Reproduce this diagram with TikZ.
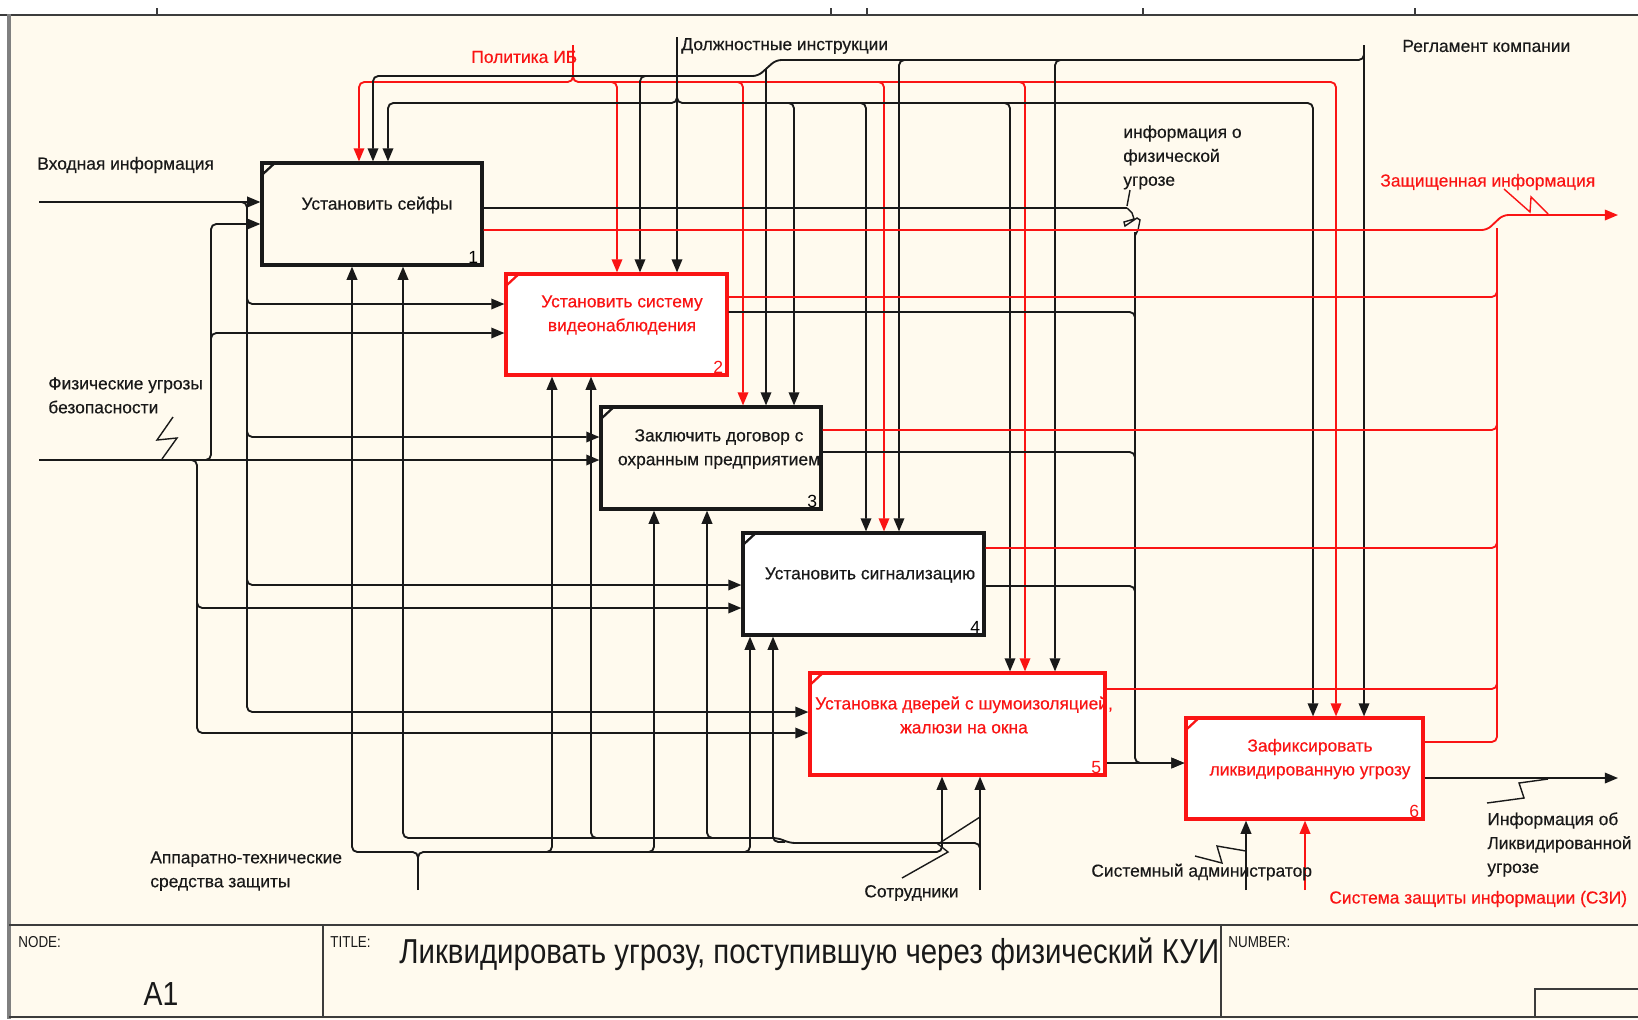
\documentclass[tikz,border=0pt]{standalone}
\usepackage{fontspec}
\setmainfont{Liberation Sans}
\newfontfamily\lblfont[FakeBold=0.4]{Liberation Sans}
\newfontfamily\narrowfont[FakeStretch=0.85]{Liberation Sans}
\usetikzlibrary{arrows.meta,fit}

\definecolor{paper}{RGB}{255,250,238}
\definecolor{ink}{RGB}{25,25,25}
\definecolor{idefred}{RGB}{250,20,20}
\definecolor{framegray}{RGB}{60,60,60}

\begin{document}
\begin{tikzpicture}[x=0.02cm,y=-0.02cm,
  wire/.style={draw=ink,line width=1.05pt,rounded corners=3pt},
  rwire/.style={wire,draw=idefred},
  tip/.style={-{Triangle[length=7.5pt,width=6pt]}},
  squig/.style={draw=ink,line width=0.8pt,sharp corners},
  lbl/.style={font=\lblfont\fontsize{9.9}{13.6}\selectfont,text=ink,inner sep=0pt},
  rlbl/.style={lbl,text=idefred},
  act/.style={draw=ink,line width=1.8pt,inner sep=0pt},
  ract/.style={act,draw=idefred},
  atext/.style={lbl,align=center},
  num/.style={font=\fontsize{10}{11}\selectfont,inner sep=0pt,anchor=south east},
  frameline/.style={draw=framegray,line width=1.2pt},
  tag/.style={font=\narrowfont\fontsize{9}{10}\selectfont,text=ink,inner sep=0pt,anchor=west},
]
% sheet
\useasboundingbox (0,0) rectangle (1638,1019);
\fill[white] (0,0) rectangle (1638,1019);
\fill[paper] (9,15) rectangle (1638,1019);

% free ends of the boundary arrows
\coordinate (srcIB) at (573,45);
\coordinate (srcDI) at (677,37);
\coordinate (srcRK) at (1364,45);
\coordinate (srcVI) at (39,202);
\coordinate (srcFU) at (39,460);
\coordinate (srcAT) at (418,890);
\coordinate (srcSO) at (980,890);
\coordinate (srcSA) at (1246,890);
\coordinate (srcSZ) at (1305,890);
\coordinate (dstZI) at (1618,215);
\coordinate (dstIL) at (1618,778);

% activity boxes
\node[act,fill=paper,fit={(262,163) (482,265)}] (b1) {};
\node[ract,fill=white,fit={(506,274) (727,375)}] (b2) {};
\node[act,fill=paper,fit={(601,407) (821,509)}] (b3) {};
\node[act,fill=white,fit={(743,533) (984,635)}] (b4) {};
\node[ract,fill=white,fit={(810,673) (1105,775)}] (b5) {};
\node[ract,fill=white,fit={(1186,718) (1423,819)}] (b6) {};

% controls: Политика ИБ
\draw[rwire,tip] (srcIB) |- (500,82) -| (359,0 |- b1.north);
\draw[rwire,tip] (srcIB) |- (1200,82) -| (1336,0 |- b6.north);
\draw[rwire,tip] (607,82) -| (617,0 |- b2.north);
\draw[rwire,tip] (733,82) -| (743,0 |- b3.north);
\draw[rwire,tip] (874,82) -| (884,0 |- b4.north);
\draw[rwire,tip] (1015,82) -| (1025,0 |- b5.north);

% controls: Должностные инструкции
\draw[wire,tip] (srcDI) -- (677,0 |- b2.north);
\draw[wire,tip] (srcDI) |- (500,103) -| (388,0 |- b1.north);
\draw[wire,tip] (srcDI) |- (1200,103) -| (1313,0 |- b6.north);
\draw[wire,tip] (784,103) -| (794,0 |- b3.north);
\draw[wire,tip] (856,103) -| (866,0 |- b4.north);
\draw[wire,tip] (1000,103) -| (1010,0 |- b5.north);

% controls: Регламент компании
\draw[wire,tip] (srcRK) -- (1364,0 |- b6.north);
\draw[wire,tip] (srcRK) |- (776,60) -- (758,76) -| (373,0 |- b1.north);
\draw[wire,tip] (909,60) -| (899,0 |- b4.north);
\draw[wire,tip] (1065,60) -| (1055,0 |- b5.north);
\draw[wire,tip] (650,76) -| (640,0 |- b2.north);
\draw[wire,tip] (766,69) -- (766,0 |- b3.north);

% inputs: Входная информация
\draw[wire,tip] (srcVI) -- (b1.west |- 0,202);
\draw[wire,tip] (238,202) -| (247,712) -- (b5.west |- 0,712);
\draw[wire,tip] (247,295) |- (b2.west |- 0,304);
\draw[wire,tip] (247,428) |- (b3.west |- 0,437);
\draw[wire,tip] (247,576) |- (b4.west |- 0,585);

% inputs: Физические угрозы безопасности
\draw[wire,tip] (srcFU) -- (b3.west |- 0,460);
\draw[wire,tip] (200,460) -| (211,224) -- (b1.west |- 0,224);
\draw[wire,tip] (211,342) |- (b2.west |- 0,333);
\draw[wire,tip] (188,460) -| (197,733) -- (b5.west |- 0,733);
\draw[wire,tip] (197,599) |- (b4.west |- 0,608);

% black outputs gathered into box 6
\draw[wire] (b1.east |- 0,208) -- (1127,208);
\draw[squig] (1130,190) -- (1127,206);
\draw[squig] (1127,208) -- (1132,213) -- (1134,219) -- (1124,222) -- (1125,226)
  -- (1137,218) -- (1140,220) -- (1138,230) -- (1135,236);
\draw[wire,tip] (1135,232) |- (b6.west |- 0,763);
\draw[wire,tip] (b5.east |- 0,763) -- (b6.west |- 0,763);
\draw[wire] (b2.east |- 0,312) -| (1135,330);
\draw[wire] (b3.east |- 0,452) -| (1135,470);
\draw[wire] (b4.east |- 0,586) -| (1135,604);

% red outputs: Защищенная информация
\draw[rwire,tip] (b1.east |- 0,230) -- (1487,230) -- (1503,215) -- (dstZI);
\draw[rwire] (b6.east |- 0,742) -| (1497,228);
\draw[rwire] (b2.east |- 0,297) -| (1497,285);
\draw[rwire] (b3.east |- 0,430) -| (1497,418);
\draw[rwire] (b4.east |- 0,548) -| (1497,536);
\draw[rwire] (b5.east |- 0,689) -| (1497,677);

% output of box 6
\draw[wire,tip] (b6.east |- 0,778) -- (dstIL);

% mechanisms: Аппаратно-технические средства защиты
\draw[wire] (srcAT) -- (418,862);
\draw[wire,tip] (418,866) |- (400,852) -| (352,0 |- b1.south);
\draw[wire,tip] (418,866) |- (440,852) -| (942,0 |- b5.south);
\draw[wire,tip] (542,852) -| (552,0 |- b2.south);
\draw[wire,tip] (644,852) -| (654,0 |- b3.south);
\draw[wire,tip] (740,852) -| (750,0 |- b4.south);

% mechanisms: Сотрудники
\draw[wire,tip] (srcSO) -- (980,0 |- b5.south);
\draw[wire,tip] (980,860) |- (790,843) -- (778,838) -| (403,0 |- b1.south);
\draw[wire,tip] (601,838) -| (591,0 |- b2.south);
\draw[wire,tip] (717,838) -| (707,0 |- b3.south);
\draw[wire,tip] (785,842) -| (773,0 |- b4.south);

% mechanisms of box 6
\draw[wire,tip] (srcSA) -- (1246,0 |- b6.south);
\draw[rwire,tip] (srcSZ) -- (1305,0 |- b6.south);

% label squiggles
\draw[squig] (173,417) -- (157,440) -- (177,438) -- (162,459);
\draw[squig,draw=idefred] (1504,189) -- (1530,212) -- (1531,197) -- (1548,214);
\draw[squig] (1487,803) -- (1524,798) -- (1519,783) -- (1548,779);
\draw[squig] (1195,856) -- (1222,863) -- (1217,846) -- (1246,851);
\draw[squig] (902,878) -- (948,852) -- (938,844) -- (980,817);

% box corner marks
\foreach \b/\c in {b1/ink,b2/idefred,b3/ink,b4/ink,b5/idefred,b6/idefred}
  \draw[\c,line width=1.3pt] (\b.north west) ++(15,1) -- ++(-14,13);

% box texts
\node[atext] (t1) at (377,205) {Установить сейфы};
\node[atext,text=idefred] (t2) at (622,315) {Установить систему\\видеонаблюдения};
\node[atext] (t3) at (719,449) {Заключить договор с\\охранным предприятием};
\node[atext] (t4) at (870,575) {Установить сигнализацию};
\node[atext,text=idefred] (t5) at (964,715) {Установка дверей с шумоизоляцией,\\жалюзи на окна};
\node[atext,text=idefred] (t6) at (1310,759) {Зафиксировать\\ликвидированную угрозу};

% box numbers
\node[num] (n1) at ([xshift=-0.1cm,yshift=0.06cm]b1.south east) {1};
\node[num,text=idefred] (n2) at ([xshift=-0.1cm,yshift=0.06cm]b2.south east) {2};
\node[num] (n3) at ([xshift=-0.1cm,yshift=0.06cm]b3.south east) {3};
\node[num] (n4) at ([xshift=-0.1cm,yshift=0.06cm]b4.south east) {4};
\node[num,text=idefred] (n5) at ([xshift=-0.1cm,yshift=0.06cm]b5.south east) {5};
\node[num,text=idefred] (n6) at ([xshift=-0.1cm,yshift=0.06cm]b6.south east) {6};

% arrow labels
\node[rlbl,anchor=west] (lIB) at (471,57) {Политика ИБ};
\node[lbl,anchor=west] (lDI) at (681,46) {Должностные инструкции};
\node[lbl,anchor=west] (lRK) at (1402,46) {Регламент компании};
\node[lbl,anchor=west] (lVI) at (37,165) {Входная информация};
\node[lbl,anchor=north west,align=left] (lFU) at (48,377) {Физические угрозы\\безопасности};
\node[lbl,anchor=north west,align=left] (lIF) at (1123,125) {информация о\\физической\\угрозе};
\node[rlbl,anchor=west] (lZI) at (1380,182) {Защищенная информация};
\node[lbl,anchor=north west,align=left] (lIL) at (1487,812) {Информация об\\Ликвидированной\\угрозе};
\node[lbl,anchor=west] (lSA) at (1091,872) {Системный администратор};
\node[rlbl,anchor=west] (lSZ) at (1329,899) {Система защиты информации (СЗИ)};
\node[lbl,anchor=west] (lSO) at (864,893) {Сотрудники};
\node[lbl,anchor=north west,align=left] (lAT) at (150,851) {Аппаратно-технические\\средства защиты};

% sheet frame and title block
\draw[frameline,line width=1.5pt] (0,15) -- (1638,15);
\draw[draw=gray,line width=2pt] (9,14) -- (9,1019);
\foreach \x in {157,831,867,1143,1415}
  \draw[frameline] (\x,8) -- (\x,15);
\draw[frameline] (9,925) -- (1638,925);
\draw[frameline] (9,1017) -- (1638,1017);
\draw[frameline] (323,925) -- (323,1017);
\draw[frameline] (1221,925) -- (1221,1017);
\draw[frameline] (1535,1017) |- (1638,989);
\node[tag] (hNode) at (18,942) {NODE:};
\node[tag] (hTitle) at (330,942) {TITLE:};
\node[tag] (hNum) at (1228,942) {NUMBER:};
\node[font=\narrowfont\fontsize{19}{20}\selectfont,text=ink,inner sep=0pt] (nodeId) at (161,994) {A1};
\node[font=\narrowfont\fontsize{19.7}{21}\selectfont,text=ink,inner sep=0pt,anchor=west] (title) at (399,954) {Ликвидировать угрозу, поступившую через физический КУИ};
\end{tikzpicture}
\end{document}
